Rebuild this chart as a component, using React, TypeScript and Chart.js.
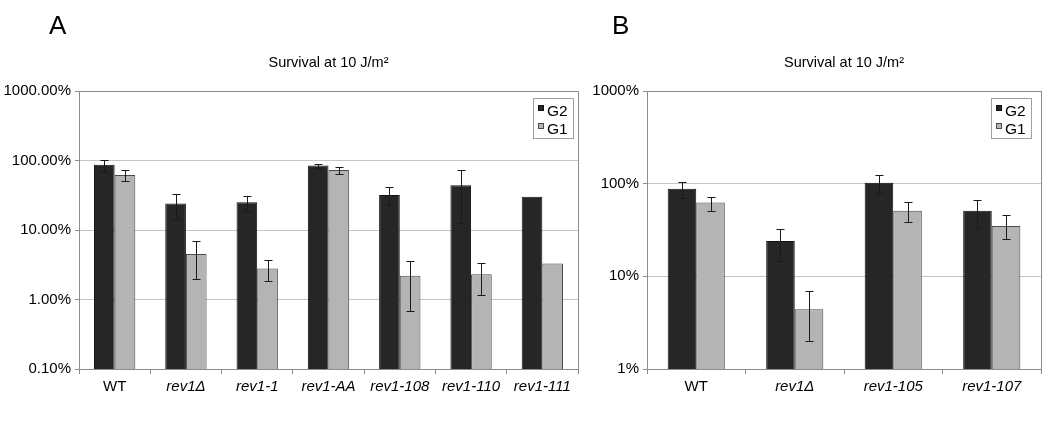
import React, { useEffect, useRef } from 'react';
import { Chart, registerables } from 'chart.js';

Chart.register(...registerables);

const FONT = '"Liberation Sans", Arial, Helvetica, sans-serif';

// ---------- Panel A data ----------
const categoriesA = ['WT', 'rev1Δ', 'rev1-1', 'rev1-AA', 'rev1-108', 'rev1-110', 'rev1-111'];
const g2A = [87, 24, 25, 85, 32, 44, 30];
const g2HighA = [103, 33, 30.5, 90, 41, 72, null];
const g2LowA = [69, 14.6, 19, 79, 23, 12.5, null];
const g1A = [62, 4.5, 2.8, 73, 2.2, 2.3, 3.3];
const g1HighA = [72, 7.0, 3.7, 79.5, 3.6, 3.4, null];
const g1LowA = [50, 2.0, 1.85, 65, 0.69, 1.15, null];
const yTicksA = [0.1, 1, 10, 100, 1000];
const yTickLabelsA = ['0.10%', '1.00%', '10.00%', '100.00%', '1000.00%'];

// ---------- Panel B data ----------
const categoriesB = ['WT', 'rev1Δ', 'rev1-105', 'rev1-107'];
const g2B = [88, 24, 102, 51];
const g2HighB = [103, 32.6, 123, 67];
const g2LowB = [70, 14.8, 79, 33];
const g1B = [62.5, 4.4, 51, 35];
const g1HighB = [72, 7.0, 64, 45.6];
const g1LowB = [51, 2.0, 39, 25];
const yTicksB = [1, 10, 100, 1000];
const yTickLabelsB = ['1%', '10%', '100%', '1000%'];

const seriesNames = ['G2', 'G1'];
const titleText = 'Survival at 10 J/m²';

type PanelProps = {
  categories: string[];
  g2: number[];
  g1: number[];
  g2High: (number | null)[];
  g2Low: (number | null)[];
  g1High: (number | null)[];
  g1Low: (number | null)[];
  yTicks: number[];
  yTickLabels: string[];
  width: number;
  height: number;
  yAxisWidth: number;
  rightPad: number;
  legendGap: number;
};

function Panel(p: PanelProps) {
  const ref = useRef<HTMLCanvasElement | null>(null);
  useEffect(() => {
    const canvas = ref.current;
    if (!canvas) return;
    const fills = ['#262626', '#b4b4b4'];
    const borders = ['#111111', '#4a4a4a'];
    const errs = [
      [p.g2High, p.g2Low],
      [p.g1High, p.g1Low],
    ];

    const framePlugin = {
      id: 'frame',
      beforeDatasetsDraw(chart: any) {
        const { ctx, chartArea: a } = chart;
        ctx.save();
        ctx.strokeStyle = '#8c8c8c';
        ctx.lineWidth = 1;
        ctx.strokeRect(Math.round(a.left) + 0.5, Math.round(a.top) + 0.5, Math.round(a.right - a.left), Math.round(a.bottom - a.top));
        ctx.restore();
      },
    };

    const errorPlugin = {
      id: 'errbars',
      afterDatasetsDraw(chart: any) {
        const { ctx } = chart;
        const y = chart.scales.y;
        ctx.save();
        ctx.strokeStyle = '#1a1a1a';
        ctx.lineWidth = 1;
        for (let d = 0; d < 2; d++) {
          const meta = chart.getDatasetMeta(d);
          meta.data.forEach((bar: any, j: number) => {
            const hi = errs[d][0][j];
            const lo = errs[d][1][j];
            if (hi == null || lo == null) return;
            const x = Math.round(bar.x) + 0.5;
            const yh = Math.round(y.getPixelForValue(hi)) + 0.5;
            const yl = Math.round(y.getPixelForValue(lo)) + 0.5;
            ctx.beginPath();
            ctx.moveTo(x, yh);
            ctx.lineTo(x, yl);
            ctx.moveTo(x - 4, yh);
            ctx.lineTo(x + 4, yh);
            ctx.moveTo(x - 4, yl);
            ctx.lineTo(x + 4, yl);
            ctx.stroke();
          });
        }
        ctx.restore();
      },
    };

    const legendPlugin = {
      id: 'boxlegend',
      afterDraw(chart: any) {
        const { ctx, chartArea: a } = chart;
        const w = 40;
        const h = 40;
        const right = Math.round(a.right - p.legendGap);
        const left = right - w;
        const top = Math.round(a.top + 7);
        ctx.save();
        ctx.fillStyle = '#ffffff';
        ctx.fillRect(left, top, w, h);
        ctx.strokeStyle = '#a0a0a0';
        ctx.lineWidth = 1;
        ctx.strokeRect(left + 0.5, top + 0.5, w, h);
        ctx.font = `15.5px ${FONT}`;
        ctx.textBaseline = 'alphabetic';
        ctx.textAlign = 'left';
        chart.data.datasets.forEach((ds: any, i: number) => {
          const base = top + 18 + i * 18;
          ctx.fillStyle = fills[i];
          ctx.fillRect(left + 5, base - 11, 6, 6);
          ctx.strokeStyle = borders[i];
          ctx.strokeRect(left + 5.5, base - 10.5, 5, 5);
          ctx.fillStyle = '#000';
          ctx.fillText(ds.label, left + 14, base);
        });
        ctx.restore();
      },
    };

    const chart = new Chart(canvas, {
      type: 'bar',
      data: {
        labels: p.categories,
        datasets: [
          {
            label: seriesNames[0],
            data: p.g2,
            backgroundColor: fills[0],
            borderColor: borders[0],
            borderWidth: 1,
            categoryPercentage: 0.58,
            barPercentage: 1,
          },
          {
            label: seriesNames[1],
            data: p.g1,
            backgroundColor: fills[1],
            borderColor: borders[1],
            borderWidth: 1,
            categoryPercentage: 0.58,
            barPercentage: 1,
          },
        ],
      },
      options: {
        responsive: false,
        animation: false,
        events: [],
        layout: { padding: { left: 0, right: p.rightPad, top: 0, bottom: 0 } },
        plugins: {
          legend: { display: false },
          tooltip: { enabled: false },
          title: {
            display: true,
            text: titleText,
            fullSize: false,
            color: '#000',
            font: { size: 14.5, family: FONT, weight: 'normal' },
            padding: { top: 54, bottom: 19.6 },
          },
        },
        scales: {
          x: {
            grid: { offset: true, drawOnChartArea: false, drawTicks: true, tickLength: 5, color: '#8c8c8c' },
            border: { color: '#8c8c8c' },
            ticks: {
              color: '#000',
              padding: 4,
              maxRotation: 0,
              autoSkip: false,
              font: (ctx: any) => ({ size: 15, family: FONT, style: ctx.index === 0 ? 'normal' : 'italic' }),
            },
            afterFit: (s: any) => {
              s.height = p.height - 369;
            },
          },
          y: {
            type: 'logarithmic',
            min: p.yTicks[0],
            max: p.yTicks[p.yTicks.length - 1],
            afterBuildTicks: (s: any) => {
              s.ticks = p.yTicks.map((v) => ({ value: v }));
            },
            grid: { color: '#c4c4c4', tickColor: '#8c8c8c', tickLength: 4, drawTicks: true },
            border: { color: '#8c8c8c' },
            ticks: {
              color: '#000',
              padding: 4,
              font: { size: 15, family: FONT },
              callback: (_v: any, i: number) => p.yTickLabels[i],
            },
            afterFit: (s: any) => {
              s.width = p.yAxisWidth;
            },
          },
        },
      },
      plugins: [framePlugin, errorPlugin, legendPlugin],
    } as any);
    return () => chart.destroy();
  }, []);
  return <canvas ref={ref} width={p.width} height={p.height} style={{ display: 'block' }} />;
}

const letterStyle: React.CSSProperties = {
  position: 'absolute',
  top: 12,
  fontFamily: FONT,
  fontSize: 26,
  lineHeight: '26px',
  color: '#000',
};

export default function App() {
  return (
    <div style={{ position: 'absolute', left: 0, top: 0, width: 1050, height: 422, background: '#fff', overflow: 'hidden' }}>
      <div style={{ position: 'absolute', left: 0, top: 0 }}>
        <Panel
          categories={categoriesA}
          g2={g2A}
          g1={g1A}
          g2High={g2HighA}
          g2Low={g2LowA}
          g1High={g1HighA}
          g1Low={g1LowA}
          yTicks={yTicksA}
          yTickLabels={yTickLabelsA}
          width={590}
          height={422}
          yAxisWidth={79}
          rightPad={12}
          legendGap={5}
        />
      </div>
      <div style={{ position: 'absolute', left: 590, top: 0 }}>
        <Panel
          categories={categoriesB}
          g2={g2B}
          g1={g1B}
          g2High={g2HighB}
          g2Low={g2LowB}
          g1High={g1HighB}
          g1Low={g1LowB}
          yTicks={yTicksB}
          yTickLabels={yTickLabelsB}
          width={460}
          height={422}
          yAxisWidth={57}
          rightPad={9}
          legendGap={10}
        />
      </div>
      <div style={{ ...letterStyle, left: 49 }}>A</div>
      <div style={{ ...letterStyle, left: 612 }}>B</div>
    </div>
  );
}
